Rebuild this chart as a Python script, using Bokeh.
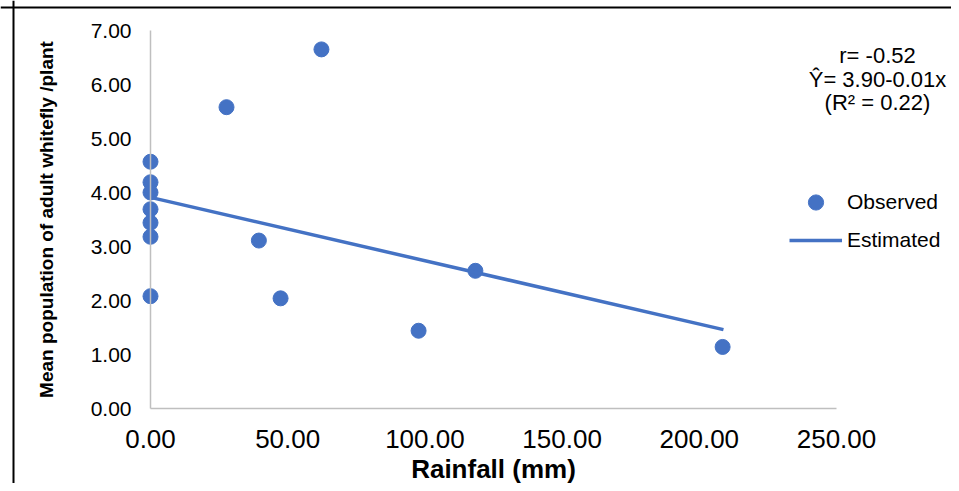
from bokeh.plotting import figure
from bokeh.models import (Range1d, FixedTicker, PrintfTickFormatter, Legend, LegendItem, Label, Span)
from bokeh.embed import file_html
from bokeh.resources import INLINE

# Data
rain_mm = [0.0, 0.0, 0.0, 0.0, 0.0, 0.0, 0.0, 27.7, 39.5, 47.4, 62.3, 97.7, 118.4, 208.5]
whitefly = [4.57, 4.19, 4.00, 3.69, 3.44, 3.18, 2.08, 5.58, 3.11, 2.04, 6.65, 1.44, 2.55, 1.14]
est_x = [0.0, 208.8]
est_y = [3.91, 1.46]
x_ticks = [0, 50, 100, 150, 200, 250]
y_ticks = [0, 1, 2, 3, 4, 5, 6, 7]
stats_lines = ["r= -0.52", "\u0176= 3.90-0.01x", "(R\u00b2 = 0.22)"]

BLUE = "#4472C4"
FONT = "Liberation Sans"

# Layout geometry (canvas pixels)
W, H = 951, 483
X0_PX, Y0_PX = 150, 408          # where data (0, 0) sits, from canvas top-left
PX_PER_X, PX_PER_Y = 2.744, 54.0

def dx(px):
    return (px - X0_PX) / PX_PER_X

def dy(py):
    return (Y0_PX - py) / PX_PER_Y

p = figure(width=W, height=H, output_backend="svg", toolbar_location=None,
           x_range=Range1d(dx(0), dx(W)), y_range=Range1d(dy(H), dy(0)),
           min_border=0, min_border_left=0, min_border_right=0,
           min_border_top=0, min_border_bottom=0)
p.outline_line_color = None
p.xgrid.visible = False
p.ygrid.visible = False

sc = p.scatter(rain_mm, whitefly, size=15, color=BLUE)
ln = p.line(est_x, est_y, line_width=3.5, color=BLUE)

for ax in (p.xaxis[0], p.yaxis[0]):
    ax.fixed_location = 0
    ax.axis_line_color = "#BFBFBF"
    ax.axis_line_width = 1.5
    ax.major_tick_line_color = None
    ax.minor_tick_line_color = None
    ax.major_tick_out = 0
    ax.major_tick_in = 0
    ax.minor_tick_out = 0
    ax.minor_tick_in = 0
    ax.major_label_text_font = FONT
    ax.major_label_text_color = "#000000"
    ax.axis_label_text_font = FONT
    ax.axis_label_text_font_style = "bold"
    ax.axis_label_text_color = "#000000"
    ax.formatter = PrintfTickFormatter(format="%.2f")

p.xaxis.ticker = FixedTicker(ticks=x_ticks)
p.yaxis.ticker = FixedTicker(ticks=y_ticks)
p.xaxis.bounds = (x_ticks[0], x_ticks[-1])
p.yaxis.bounds = (y_ticks[0], y_ticks[-1])
p.xaxis.major_label_text_font_size = "26px"
p.yaxis.major_label_text_font_size = "21px"
p.xaxis.major_label_standoff = 21
p.yaxis.major_label_standoff = 19
p.xaxis.axis_label = "Rainfall (mm)"
p.xaxis.axis_label_text_font_size = "26px"
p.xaxis.axis_label_standoff = 3
p.yaxis.axis_label = "Mean population of adult whitefly /plant"
p.yaxis.axis_label_text_font_size = "19px"
p.yaxis.axis_label_standoff = 31

# chart border (left and top edges)
p.add_layout(Span(location=dx(13), dimension="height", line_color="#000000", line_width=2))
p.add_layout(Span(location=dy(7), dimension="width", line_color="#000000", line_width=2))

legend = Legend(items=[LegendItem(label="Observed", renderers=[sc]),
                       LegendItem(label="Estimated", renderers=[ln])],
                location=(789, H - 259), padding=0, margin=0, spacing=0,
                glyph_width=53, glyph_height=38, label_height=38, label_standoff=5,
                border_line_color=None, background_fill_alpha=0,
                label_text_font=FONT, label_text_font_size="21px", label_text_color="#000000")
p.add_layout(legend, "center")

for i, t in enumerate(stats_lines):
    p.add_layout(Label(x=877, y=H - (55 + 23.5 * i), x_units="screen", y_units="screen", text=t,
                       text_align="center", text_baseline="alphabetic",
                       text_font=FONT, text_font_size="22px", text_color="#000000"))

open("out.html", "w").write(file_html(p, INLINE))
